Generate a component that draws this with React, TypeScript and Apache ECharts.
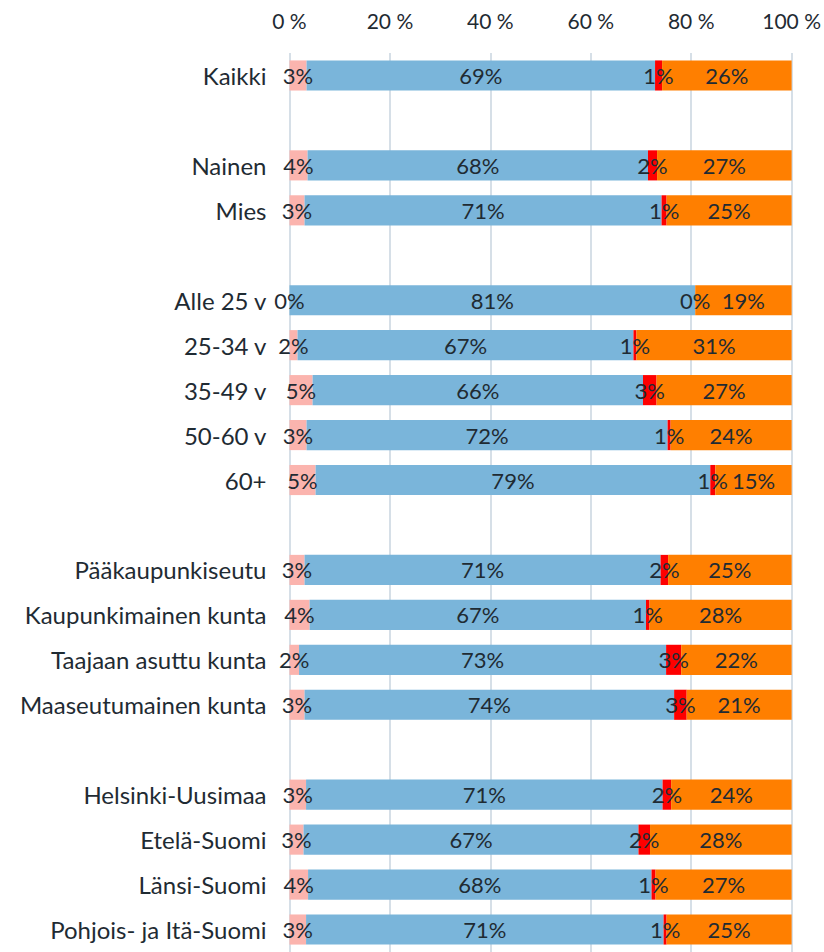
import React, { useEffect, useRef } from "react";
import * as echarts from "echarts";

const categories = [
  "Kaikki", "",
  "Nainen", "Mies", "",
  "Alle 25 v", "25-34 v", "35-49 v", "50-60 v", "60+", "",
  "Pääkaupunkiseutu", "Kaupunkimainen kunta", "Taajaan asuttu kunta", "Maaseutumainen kunta", "",
  "Helsinki-Uusimaa", "Etelä-Suomi", "Länsi-Suomi", "Pohjois- ja Itä-Suomi",
];

const pinkValues = [3.4, null, 3.6, 3.0, null, 0, 1.6, 4.6, 3.4, 5.2, null, 3.0, 4.0, 1.9, 3.0, null, 3.3, 2.8, 3.7, 3.3];
const blueValues = [69.4, null, 67.8, 71.1, null, 80.8, 66.9, 65.8, 71.9, 78.6, null, 70.9, 67.0, 73.1, 73.6, null, 71.0, 66.7, 68.4, 71.2];
const redValues = [1.4, null, 1.8, 1.0, null, 0, 0.6, 2.7, 0.6, 1.0, null, 1.5, 0.7, 3.0, 2.5, null, 1.7, 2.3, 0.8, 0.6];
const orangeValues = [25.8, null, 26.8, 24.9, null, 19.2, 30.9, 26.9, 24.1, 15.2, null, 24.6, 28.3, 22.0, 20.9, null, 24.0, 28.2, 27.1, 24.9];

const xTicks = [0, 20, 40, 60, 80, 100];

const FONT = "Lato";
const TEXT = "#1f2b33";

export default function App() {
  const ref = useRef<HTMLDivElement>(null);
  useEffect(() => {
    document.body.style.margin = "0";
    const chart = echarts.init(ref.current!, null, { renderer: "svg" });
    const mk = (name: string, data: (number | null)[], color: string) => ({
      name,
      type: "bar",
      stack: "s",
      data,
      barCategoryGap: "33%",
      itemStyle: { color },
      label: {
        show: true,
        position: "inside",
        color: TEXT,
        fontFamily: FONT,
        fontSize: 22,
        formatter: (p: any) => (p.value == null ? "" : Math.round(p.value) + "%"),
      },
    });
    chart.setOption({
      animation: false,
      textStyle: { fontFamily: FONT },
      grid: { left: 289.5, right: 32, top: 53, height: 903 },
      xAxis: {
        type: "value",
        position: "top",
        min: xTicks[0],
        max: xTicks[xTicks.length - 1],
        interval: 20,
        axisLine: { show: false },
        axisTick: { show: false },
        axisLabel: {
          color: TEXT,
          fontFamily: FONT,
          fontSize: 21,
          margin: 22,
          formatter: (v: number) => `${v} %`,
        },
        splitLine: { show: true, lineStyle: { color: "#d6dfe7", width: 2 } },
      },
      yAxis: {
        type: "category",
        inverse: true,
        data: categories,
        axisLine: { show: false },
        axisTick: { show: false },
        axisLabel: { color: TEXT, fontFamily: FONT, fontSize: 24, margin: 23 },
      },
      series: [
        mk("pink", pinkValues, "#fbb4ae"),
        mk("blue", blueValues, "#7ab5da"),
        mk("red", redValues, "#fe0000"),
        mk("orange", orangeValues, "#ff7f00"),
      ],
    });
    return () => chart.dispose();
  }, []);
  return <div ref={ref} style={{ width: 824, height: 952 }} />;
}
